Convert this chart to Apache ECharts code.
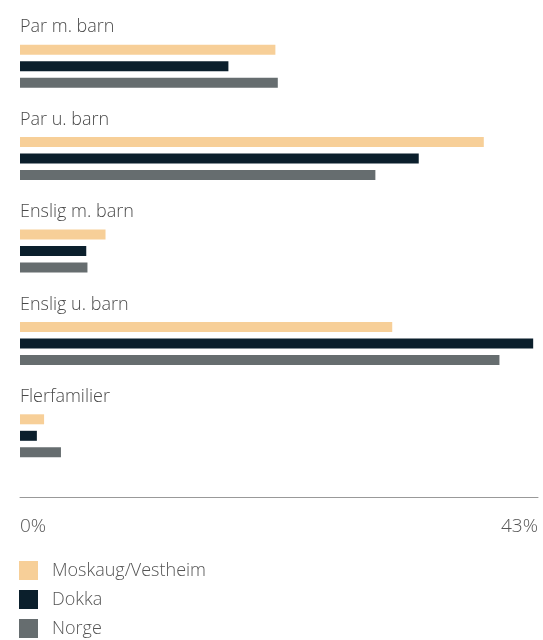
<!DOCTYPE html>
<html>
<head>
<meta charset="utf-8">
<script src="https://cdn.jsdelivr.net/npm/echarts@6/dist/echarts.min.js"></script>
<style>
  html, body { margin: 0; padding: 0; background: #fff; }
  #chart { width: 543px; height: 640px; }
</style>
</head>
<body>
<div id="chart"></div>
<script>
const categories = ['Par m. barn', 'Par u. barn', 'Enslig m. barn', 'Enslig u. barn', 'Flerfamilier'];
const seriesNames = ['Moskaug/Vestheim', 'Dokka', 'Norge'];
const moskaug = [21.2, 38.5, 7.1, 30.9, 2.0];
const dokka = [17.3, 33.1, 5.5, 42.6, 1.4];
const norge = [21.4, 29.5, 5.6, 39.8, 3.4];
const axisMax = 43;

const colors = ['#f7cf98', '#0b1f2c', '#666d6f'];
const font = '"Open Sans", Lato, sans-serif';

const chart = echarts.init(document.getElementById('chart'));

function bar(name, data, color) {
    return {
        name: name,
        type: 'bar',
        data: data,
        barWidth: 10,
        barGap: '65%',
        itemStyle: { color: color },
        silent: true,
    };
}

chart.setOption({
    animation: false,
    color: colors,
    grid: { left: 20, right: 5, top: 20, height: 462 },
    legend: {
        orient: 'vertical',
        left: 19,
        top: 561,
        padding: 0,
        itemWidth: 19,
        itemHeight: 19,
        itemGap: 10,
        icon: 'rect',
        data: seriesNames,
        textStyle: { fontFamily: font, fontSize: 18, color: '#555', fontWeight: 300, padding: [0, 0, 0, 9] },
    },
    xAxis: {
        type: 'value',
        min: 0,
        max: axisMax,
        interval: axisMax,
        offset: 15,
        splitLine: { show: false },
        axisTick: { show: false },
        axisLine: { show: true, lineStyle: { color: '#999', width: 1 } },
        axisLabel: {
            formatter: '{value}%',
            margin: 20,
            fontFamily: font,
            fontSize: 19,
            fontWeight: 300,
            color: '#555',
            alignMinLabel: 'left',
            alignMaxLabel: 'right',
        },
    },
    yAxis: {
        type: 'category',
        inverse: true,
        data: categories,
        axisLine: { show: false },
        axisTick: { show: false },
        axisLabel: {
            inside: true,
            margin: 0,
            align: 'left',
            verticalAlign: 'middle',
            formatter: (v) => '{t|' + v + '}',
            rich: {
                t: {
                    padding: [0, 0, 78, 0],
                    fontFamily: font,
                    fontSize: 18,
                    fontWeight: 300,
                    color: '#4a4a4a',
                },
            },
        },
    },
    series: [
        bar(seriesNames[0], moskaug, colors[0]),
        bar(seriesNames[1], dokka, colors[1]),
        bar(seriesNames[2], norge, colors[2]),
    ],
});
</script>
</body>
</html>
